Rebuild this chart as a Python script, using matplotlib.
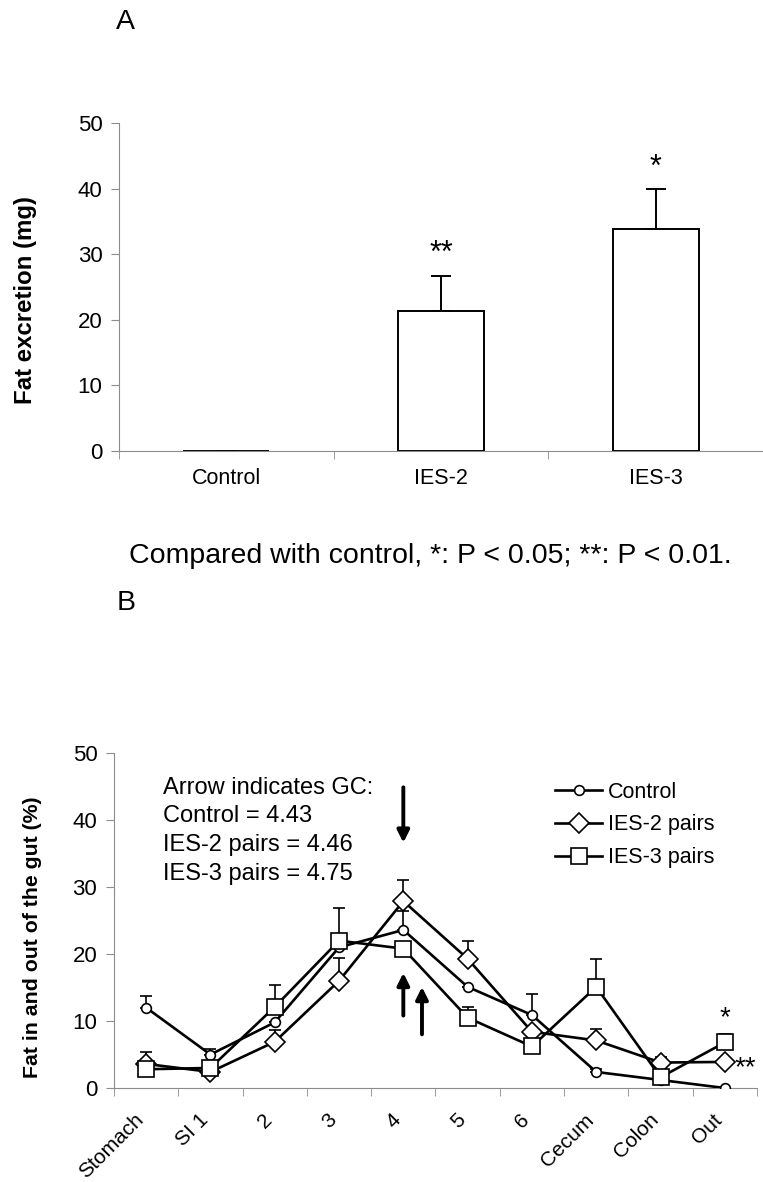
import matplotlib
matplotlib.use("Agg")
import matplotlib.pyplot as plt
import matplotlib.transforms as mtransforms
import numpy as np

plt.rcParams['font.family'] = ['Liberation Sans', 'DejaVu Sans']

# Panel A data
groups = ['Control', 'IES-2', 'IES-3']
fat_excretion = [0.0, 21.4, 33.8]
fat_err = [0.0, 5.3, 6.2]
fat_stars = ['', '**', '*']
fat_star_y = [0, 30.0, 43.2]

# Panel B data
segments = ['Stomach', 'SI 1', '2', '3', '4', '5', '6', 'Cecum', 'Colon', 'Out']
control = [12.0, 5.0, 9.8, 21.0, 23.6, 15.1, 10.9, 2.4, 1.2, 0.0]
control_err = [1.8, 0.8, 0.0, 0.0, 2.8, 0.0, 3.2, 0.5, 0.0, 0.0]
ies2 = [3.6, 2.4, 6.9, 16.0, 27.9, 19.3, 8.4, 7.1, 3.8, 3.9]
ies2_err = [0.0, 0.0, 1.8, 3.4, 3.1, 2.6, 0.0, 1.7, 0.9, 0.0]
ies3 = [2.8, 3.0, 12.1, 22.0, 20.8, 10.5, 6.2, 15.1, 1.6, 6.8]
ies3_err = [2.6, 0.0, 3.3, 4.8, 1.0, 1.6, 0.0, 4.1, 0.0, 1.2]
gc_text = "Arrow indicates GC:\nControl = 4.43\nIES-2 pairs = 4.46\nIES-3 pairs = 4.75"

grey = '#8c8c8c'

fig = plt.figure(figsize=(7.63, 11.82), dpi=100)

# ---------------- Panel A ----------------
ax1 = fig.add_axes([0.156, 0.6184, 0.844, 0.2775])
x = np.arange(len(groups))
ax1.bar(x, fat_excretion, width=0.4, color='white', edgecolor='black', linewidth=1.4, zorder=2)
ax1.errorbar(x, fat_excretion, yerr=[np.zeros(3), fat_err], fmt='none',
             ecolor='black', elinewidth=1.4, capsize=7, capthick=1.4, zorder=1)
for xi, s, sy in zip(x, fat_stars, fat_star_y):
    if s:
        ax1.text(xi, sy, s, ha='center', va='center', fontsize=22)
ax1.set_xlim(-0.5, 2.5)
ax1.set_ylim(0, 50)
ax1.set_yticks(range(0, 51, 10))
ax1.set_xticks(x)
ax1.set_xticklabels(groups)
ax1.set_xticks([-0.5, 0.5, 1.5, 2.5], minor=True)
ax1.tick_params(axis='x', which='major', length=0, pad=12, labelsize=15.5)
ax1.tick_params(axis='x', which='minor', length=6, color=grey)
ax1.tick_params(axis='y', length=6, color=grey, labelsize=16, pad=6)
for sp in ['top', 'right']:
    ax1.spines[sp].set_visible(False)
for sp in ['left', 'bottom']:
    ax1.spines[sp].set_color(grey)
ax1.set_ylabel('Fat excretion (mg)', fontsize=17.3, fontweight='bold')
ax1.yaxis.set_label_coords(-0.128, 0.46)

fig.text(0.165, 0.9814, 'A', fontsize=20.5, ha='center', va='center')
fig.text(0.5636, 0.5296, 'Compared with control, *: P < 0.05; **: P < 0.01.',
         fontsize=20.5, ha='center', va='center')
fig.text(0.165, 0.490, 'B', fontsize=20.5, ha='center', va='center')

# ---------------- Panel B ----------------
ax2 = fig.add_axes([0.1494, 0.0795, 0.8427, 0.2834])
xs = np.arange(len(segments))
series = [
    (control, control_err, 'o', 7, 'Control'),
    (ies2, ies2_err, 'D', 10, 'IES-2 pairs'),
    (ies3, ies3_err, 's', 12, 'IES-3 pairs'),
]
for vals, err, mk, ms, lab in series:
    ax2.errorbar(xs, vals, yerr=[np.zeros(len(vals)), err], fmt='none',
                 ecolor='black', elinewidth=1.2, capsize=4.5, capthick=1.2, zorder=1)
for vals, err, mk, ms, lab in series:
    ax2.plot(xs, vals, color='black', lw=1.9, marker=mk, ms=ms,
             mfc='white', mec='black', mew=1.2, label=lab, zorder=3)

ax2.text(9, 10.4, '*', ha='center', va='center', fontsize=20)
ax2.text(9.48, 3.0, '**', ha='right', va='center', fontsize=20)

# arrows marking GC
ax2.annotate('', xy=(4, 36.2), xytext=(4, 45.3),
             arrowprops=dict(arrowstyle='-|>', color='black', lw=2.8, mutation_scale=18))
ax2.annotate('', xy=(4, 17.6), xytext=(4, 10.4),
             arrowprops=dict(arrowstyle='-|>', color='black', lw=2.8, mutation_scale=18))
ax2.annotate('', xy=(4.29, 15.5), xytext=(4.29, 7.6),
             arrowprops=dict(arrowstyle='-|>', color='black', lw=2.8, mutation_scale=18))

ax2.text(0.26, 46.5, gc_text, fontsize=17, ha='left', va='top', linespacing=1.4)

ax2.set_xlim(-0.5, 9.5)
ax2.set_ylim(0, 50)
ax2.set_yticks(range(0, 51, 10))
ax2.set_xticks(xs)
ax2.set_xticklabels(segments, rotation=45, ha='right', rotation_mode='anchor')
ax2.set_xticks(np.arange(-0.5, 10, 1), minor=True)
ax2.tick_params(axis='x', which='major', length=0, pad=16, labelsize=15)
ax2.tick_params(axis='x', which='minor', length=6, color=grey)
ax2.tick_params(axis='y', length=6, color=grey, labelsize=16, pad=6)
shift = mtransforms.ScaledTranslation(-12 / 100, 0, fig.dpi_scale_trans)
for lbl in ax2.get_xticklabels():
    lbl.set_transform(lbl.get_transform() + shift)
for sp in ['top', 'right']:
    ax2.spines[sp].set_visible(False)
for sp in ['left', 'bottom']:
    ax2.spines[sp].set_color(grey)
ax2.set_ylabel('Fat in and out of the gut (%)', fontsize=15.3, fontweight='bold')
ax2.yaxis.set_label_coords(-0.112, 0.451)

ax2.legend(loc='upper left', bbox_to_anchor=(0.686, 0.915), frameon=False, fontsize=15.5,
           handlelength=2.2, handletextpad=0.25, labelspacing=0.55,
           borderpad=0, borderaxespad=0)

fig.savefig('out.png', dpi=100)
